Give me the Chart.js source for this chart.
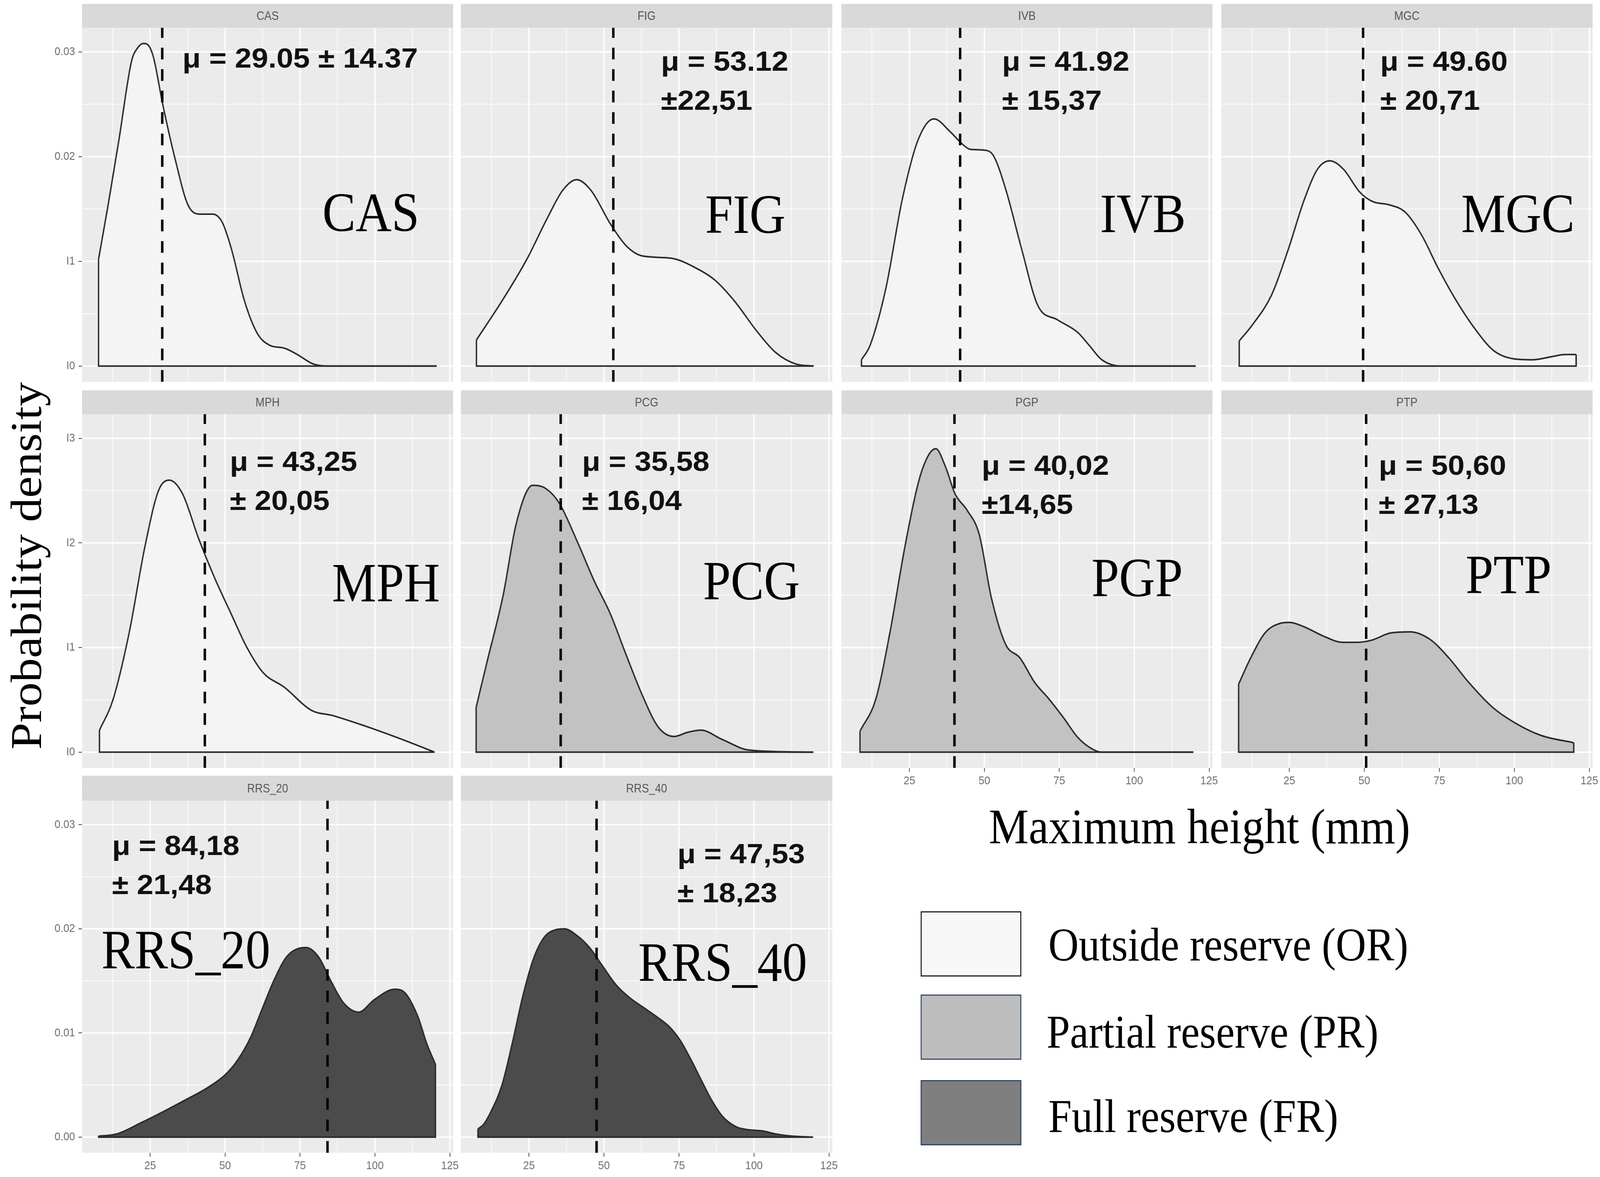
<!DOCTYPE html>
<html lang="en">
<head>
<meta charset="UTF-8">
<title>Maximum height - probability density by site</title>
<script src="https://cdn.jsdelivr.net/npm/chart.js"></script>
<style>
  html, body { margin: 0; padding: 0; background: #fff; overflow: hidden; }
  #page { position: relative; width: 4562px; height: 3012px; overflow: hidden; background: #fff; transform-origin: 0 0; }
  #page canvas { position: absolute; }
  .serif { position: absolute; font-family: "Liberation Serif", "DejaVu Serif", serif; line-height: 1; white-space: nowrap; color: #000; }
  .swatch { position: absolute; left: 2625px; width: 287px; height: 167px; box-sizing: border-box; }
</style>
</head>
<body>
<div id="page">
  <div class="serif" style="font-size:124px; left:76px; top:1448px; transform:translate(-50%,-50%) rotate(-90deg);">Probability density</div>
  <div class="serif" style="font-size:128px; left:3420px; top:2051px; transform:translateX(-50%);">Maximum height (mm)</div>

  <div class="swatch" style="top:2332px; background:#f7f7f7; border:3px solid #222;"></div>
  <div class="swatch" style="top:2545px; background:#bebebe; border:3px solid #3d4e6e;"></div>
  <div class="swatch" style="top:2764px; background:#7f7f7f; border:3px solid #34466b;"></div>
  <div class="serif" style="font-size:120px; left:2989px; top:2358px;">Outside reserve (OR)</div>
  <div class="serif" style="font-size:120px; left:2984px; top:2581px;">Partial reserve (PR)</div>
  <div class="serif" style="font-size:120px; left:2989px; top:2797px;">Full reserve (FR)</div>
</div>

<script>
// ---- data ----
const sites  = ['CAS', 'FIG', 'IVB', 'MGC', 'MPH', 'PCG', 'PGP', 'PTP', 'RRS_20', 'RRS_40'];
const groups = ['OR', 'OR', 'OR', 'OR', 'OR', 'PR', 'PR', 'PR', 'FR', 'FR'];
const means  = [29.05, 53.12, 41.92, 49.60, 43.25, 35.58, 40.02, 50.60, 84.18, 47.53];
const meanText = [
  ['μ = 29.05 ± 14.37'],
  ['μ = 53.12', '±22,51'],
  ['μ = 41.92', '± 15,37'],
  ['μ = 49.60', '± 20,71'],
  ['μ = 43,25', '± 20,05'],
  ['μ = 35,58', '± 16,04'],
  ['μ = 40,02', '±14,65'],
  ['μ = 50,60', '± 27,13'],
  ['μ = 84,18', '± 21,48'],
  ['μ = 47,53', '± 18,23']
];

const CAS_x = [7.8, 11.0, 14.6, 18.8, 20.9, 22.8, 24.5, 26.1, 29.2, 33.4, 37.6, 41.7, 45.9, 49.1, 52.2, 56.4, 60.6, 64.8, 69.9, 74.1, 79.4, 84.6, 120.6];
const CAS_y = [0.0102, 0.0154, 0.0216, 0.0291, 0.0304, 0.0308, 0.0306, 0.0295, 0.0250, 0.0197, 0.0154, 0.0145, 0.0145, 0.0137, 0.0111, 0.0063, 0.0032, 0.0020, 0.0017, 0.0011, 0.0002, 0, 0];

const FIG_x = [7.5, 16.2, 24.3, 30.9, 36.3, 40.9, 45.6, 52.3, 57.7, 63.0, 72.4, 80.4, 87.0, 93.8, 100.5, 107.2, 113.9, 119.9];
const FIG_y = [0.0025, 0.0063, 0.0102, 0.0140, 0.0168, 0.0178, 0.0168, 0.0135, 0.0114, 0.0105, 0.0103, 0.0094, 0.0082, 0.0061, 0.0035, 0.0013, 0.0002, 0];

const IVB_x = [9.0, 11.9, 17.2, 22.6, 27.9, 33.2, 38.5, 42.6, 45.2, 50.5, 53.2, 57.2, 62.5, 67.8, 74.5, 81.2, 84.9, 89.2, 95.7, 120.5];
const IVB_y = [0.0006, 0.0020, 0.0075, 0.0159, 0.0216, 0.0236, 0.0224, 0.0212, 0.0207, 0.0206, 0.0200, 0.0168, 0.0111, 0.0058, 0.0044, 0.0032, 0.0020, 0.0006, 0, 0];

const MGC_x = [8.3, 12.6, 19.1, 24.6, 30.0, 34.4, 38.5, 43.0, 48.5, 52.8, 58.2, 63.6, 69.1, 74.5, 79.9, 86.5, 93.0, 99.6, 106.0, 112.5, 116.9, 120.6];
const MGC_y = [0.0024, 0.0039, 0.0068, 0.0111, 0.0159, 0.0188, 0.0196, 0.0188, 0.0166, 0.0157, 0.0154, 0.0147, 0.0125, 0.0094, 0.0066, 0.0037, 0.0015, 0.0007, 0.0006, 0.0009, 0.0011, 0.0011];

const MPH_x = [8.1, 12.6, 18.0, 23.3, 27.8, 31.4, 35.8, 41.2, 46.6, 51.9, 57.3, 62.7, 69.8, 78.8, 85.9, 96.7, 107.4, 116.4, 119.9];
const MPH_y = [0.0021, 0.0050, 0.0114, 0.0197, 0.0250, 0.0260, 0.0247, 0.0204, 0.0166, 0.0133, 0.0100, 0.0076, 0.0062, 0.0040, 0.0035, 0.0025, 0.0014, 0.0004, 0];

const PCG_x = [7.4, 11.0, 16.4, 20.8, 26.2, 30.6, 35.1, 41.3, 46.7, 52.0, 57.4, 62.7, 68.1, 73.4, 77.9, 82.3, 89.5, 98.4, 119.8];
const PCG_y = [0.0043, 0.0086, 0.0150, 0.0219, 0.0255, 0.0252, 0.0238, 0.0200, 0.0164, 0.0133, 0.0093, 0.0055, 0.0024, 0.0015, 0.0019, 0.0021, 0.0012, 0.0002, 0];

const PGP_x = [8.5, 13.8, 18.6, 23.4, 28.2, 31.4, 33.8, 37.0, 40.2, 44.3, 48.3, 52.3, 57.1, 61.9, 66.7, 71.5, 76.4, 81.2, 86.0, 89.0, 119.7];
const PGP_y = [0.0020, 0.0051, 0.0116, 0.0195, 0.0260, 0.0284, 0.0290, 0.0273, 0.0247, 0.0231, 0.0208, 0.0148, 0.0103, 0.0090, 0.0067, 0.0051, 0.0033, 0.0014, 0.0003, 0, 0];

const PTP_x = [8.1, 12.1, 16.9, 21.8, 25.0, 29.8, 36.3, 42.7, 47.6, 52.4, 58.9, 65.3, 71.8, 78.2, 84.7, 92.7, 100.8, 108.9, 119.8];
const PTP_y = [0.0065, 0.0090, 0.0114, 0.0123, 0.0124, 0.0120, 0.0111, 0.0105, 0.0105, 0.0107, 0.0114, 0.0115, 0.0108, 0.0090, 0.0067, 0.0043, 0.0027, 0.0016, 0.0009];

const RRS20_x = [7.8, 13.8, 22.1, 30.4, 37.6, 43.9, 50.1, 54.2, 58.4, 62.5, 66.7, 70.8, 77.0, 81.2, 85.3, 89.5, 94.6, 99.8, 106.6, 110.2, 114.3, 117.4, 120.2];
const RRS20_y = [0.0001, 0.0003, 0.0014, 0.0026, 0.0037, 0.0047, 0.0060, 0.0074, 0.0095, 0.0124, 0.0153, 0.0174, 0.0182, 0.0173, 0.0150, 0.0129, 0.0120, 0.0132, 0.0142, 0.0138, 0.0116, 0.0089, 0.0070];

const RRS40_x = [8.0, 9.8, 12.4, 16.0, 19.5, 23.0, 26.6, 30.1, 33.7, 36.8, 40.8, 45.2, 49.6, 54.1, 58.5, 62.9, 67.4, 71.8, 75.4, 78.9, 82.4, 86.0, 89.5, 94.0, 98.4, 102.8, 107.3, 112.6, 119.7];
const RRS40_y = [0.0008, 0.0012, 0.0025, 0.0050, 0.0091, 0.0136, 0.0172, 0.0192, 0.0199, 0.0200, 0.0194, 0.0182, 0.0164, 0.0146, 0.0134, 0.0125, 0.0116, 0.0106, 0.0093, 0.0075, 0.0055, 0.0035, 0.0020, 0.0010, 0.0007, 0.0006, 0.0003, 0.0001, 0];

const seriesX = [CAS_x, FIG_x, IVB_x, MGC_x, MPH_x, PCG_x, PGP_x, PTP_x, RRS20_x, RRS40_x];
const seriesY = [CAS_y, FIG_y, IVB_y, MGC_y, MPH_y, PCG_y, PGP_y, PTP_y, RRS20_y, RRS40_y];

// axis ticks
const xTicks = [25, 50, 75, 100, 125];
const yTicks = [0, 0.01, 0.02, 0.03];
const yTickText = [
  ['I0', 'I1', '0.02', '0.03'],
  ['I0', 'I1', 'I2', 'I3'],
  ['0.00', '0.01', '0.02', '0.03']
];

// ---- layout (pixels, on a 4562x3012 page) ----
const colL = [234, 1314, 2399, 3482];
const colR = [1292, 2373, 3457, 4541];
const rowTop = [10, 999, 1985];      // strip top
const rowStrip = [71, 1060, 2049];   // strip bottom / panel top
const rowBot = [977, 1965, 2950];    // panel bottom
const X_MIN = 2.3, X_MAX = 126.1, Y_MIN = -0.0015, Y_MAX = 0.0323;
const AXW = 234, AXH = 70, PADR = 40;

// annotation anchors in data units (x, density)
const muAt = [[35.8, 0.0285], [69.0, 0.0282], [55.9, 0.0282], [55.3, 0.0282], [51.6, 0.0269],
              [42.7, 0.0269], [49.1, 0.0265], [54.8, 0.0265], [12.3, 0.0271], [74.5, 0.0263]];
const nameAt = [[114.8, 0.0129], [110.5, 0.0127], [117.2, 0.0128], [120.1, 0.0128], [121.7, 0.0144],
                [115.3, 0.0146], [116.2, 0.0149], [112.4, 0.0152], [65.1, 0.0162], [117.7, 0.0150]];

const fills = { OR: '#f4f4f4', PR: '#c2c2c2', FR: '#4b4b4b' };

// the real viewport is not always 4562 wide: stretch the page to fill it
const page = document.getElementById('page');
const sx = window.innerWidth / 4562, sy = window.innerHeight / 3012;
page.style.transform = 'scale(' + sx + ',' + sy + ')';

// strip, panel background, grid, and text annotations
const panelPlugin = {
  id: 'panel',
  beforeDraw(chart) {
    const { ctx, chartArea: a, scales: { x, y } } = chart;
    const p = chart.options.plugins.panel;
    ctx.save();
    ctx.fillStyle = '#d9d9d9';
    ctx.fillRect(a.left, 0, a.right - a.left, a.top);
    ctx.fillStyle = '#555';
    ctx.font = '31px "Liberation Sans", Arial, sans-serif';
    ctx.textAlign = 'center';
    ctx.textBaseline = 'middle';
    ctx.fillText(p.strip, (a.left + a.right) / 2, a.top / 2 + 2);

    ctx.fillStyle = '#ebebeb';
    ctx.fillRect(a.left, a.top, a.right - a.left, a.bottom - a.top);
    ctx.beginPath();
    ctx.rect(a.left, a.top, a.right - a.left, a.bottom - a.top);
    ctx.clip();
    ctx.strokeStyle = '#ffffff';
    // minor grid
    ctx.lineWidth = 1.8;
    [12.5, 37.5, 62.5, 87.5, 112.5].forEach(v => {
      const px = x.getPixelForValue(v);
      ctx.beginPath(); ctx.moveTo(px, a.top); ctx.lineTo(px, a.bottom); ctx.stroke();
    });
    [0.005, 0.015, 0.025].forEach(v => {
      const py = y.getPixelForValue(v);
      ctx.beginPath(); ctx.moveTo(a.left, py); ctx.lineTo(a.right, py); ctx.stroke();
    });
    // major grid
    ctx.lineWidth = 3.6;
    xTicks.forEach(v => {
      const px = x.getPixelForValue(v);
      ctx.beginPath(); ctx.moveTo(px, a.top); ctx.lineTo(px, a.bottom); ctx.stroke();
    });
    yTicks.forEach(v => {
      const py = y.getPixelForValue(v);
      ctx.beginPath(); ctx.moveTo(a.left, py); ctx.lineTo(a.right, py); ctx.stroke();
    });
    ctx.restore();
  },
  afterDatasetsDraw(chart) {
    const { ctx, scales: { x, y } } = chart;
    const p = chart.options.plugins.panel;
    ctx.save();
    // mean +- sd text
    ctx.fillStyle = '#111';
    ctx.font = 'bold 70px "Liberation Sans", Arial, sans-serif';
    ctx.textAlign = 'left';
    ctx.textBaseline = 'alphabetic';
    const mx = x.getPixelForValue(p.mu[0]);
    const my = y.getPixelForValue(p.mu[1]);
    p.muLines.forEach((t, i) => {
      ctx.save();
      ctx.translate(mx, my + i * 100);
      ctx.scale(1.22, 1);
      ctx.fillText(t, 0, 0);
      ctx.restore();
    });
    // big site label
    ctx.fillStyle = '#000';
    ctx.font = '142px "Liberation Serif", "Times New Roman", serif';
    ctx.textAlign = 'right';
    ctx.fillText(p.strip, x.getPixelForValue(p.name[0]), y.getPixelForValue(p.name[1]));
    ctx.restore();
  }
};

sites.forEach((site, i) => {
  const row = Math.floor(i / 4), col = i % 4;
  const showX = (row === 2) || (row === 1 && col >= 2);
  const showY = col === 0;
  const left = colL[col] - AXW;
  const w = AXW + (colR[col] - colL[col]) + PADR;
  const h = (rowBot[row] - rowTop[row]) + AXH;

  const cv = document.createElement('canvas');
  cv.width = w; cv.height = h;
  cv.style.left = left + 'px';
  cv.style.top = rowTop[row] + 'px';
  cv.style.width = w + 'px';
  cv.style.height = h + 'px';
  page.appendChild(cv);

  const xs = seriesX[i], ys = seriesY[i];
  const n = xs.length;
  const curve = xs.map((v, k) => ({ x: v, y: ys[k] }));
  const outline = [
    { x: xs[0], y: ys[0] }, { x: xs[0], y: 0 },
    { x: xs[n - 1], y: 0 }, { x: xs[n - 1], y: ys[n - 1] }
  ];
  const vline = [{ x: means[i], y: Y_MIN }, { x: means[i], y: Y_MAX }];
  const yLabels = yTickText[row];

  new Chart(cv.getContext('2d'), {
    type: 'line',
    data: {
      datasets: [
        {
          data: vline, order: 1, borderColor: '#000', borderWidth: 7,
          borderDash: [30, 25], borderCapStyle: 'butt', pointRadius: 0, fill: false, tension: 0
        },
        {
          data: outline, order: 2, borderColor: '#2b2b2b', borderWidth: 4,
          pointRadius: 0, fill: false, tension: 0
        },
        {
          data: curve, order: 3, borderColor: '#2b2b2b', borderWidth: 4,
          backgroundColor: fills[groups[i]], fill: 'origin',
          pointRadius: 0, cubicInterpolationMode: 'monotone'
        }
      ]
    },
    options: {
      responsive: false,
      animation: false,
      devicePixelRatio: 1,
      layout: { padding: { top: rowStrip[row] - rowTop[row], right: PADR, left: 0, bottom: 0 } },
      plugins: {
        legend: { display: false },
        tooltip: { enabled: false },
        panel: { strip: site, mu: muAt[i], muLines: meanText[i], name: nameAt[i] }
      },
      scales: {
        x: {
          type: 'linear', min: X_MIN, max: X_MAX,
          afterBuildTicks: s => { s.ticks = xTicks.map(v => ({ value: v })); },
          afterFit: s => { s.height = AXH; },
          grid: { display: true, drawOnChartArea: false, drawTicks: showX, tickLength: 10, color: '#444', lineWidth: 2 },
          border: { display: false },
          ticks: {
            display: showX, padding: 6, maxRotation: 0, autoSkip: false,
            color: '#6e6e6e', font: { family: '"Liberation Sans", Arial, sans-serif', size: 30 },
            callback: v => String(v)
          }
        },
        y: {
          type: 'linear', min: Y_MIN, max: Y_MAX,
          afterBuildTicks: s => { s.ticks = yTicks.map(v => ({ value: v })); },
          afterFit: s => { s.width = AXW; },
          grid: { display: true, drawOnChartArea: false, drawTicks: showY, tickLength: 10, color: '#444', lineWidth: 2 },
          border: { display: false },
          ticks: {
            display: showY, padding: 10, autoSkip: false,
            color: '#6e6e6e', font: { family: '"Liberation Sans", Arial, sans-serif', size: 30 },
            callback: v => yLabels[yTicks.indexOf(v)]
          }
        }
      }
    },
    plugins: [panelPlugin]
  });
});
</script>
</body>
</html>
